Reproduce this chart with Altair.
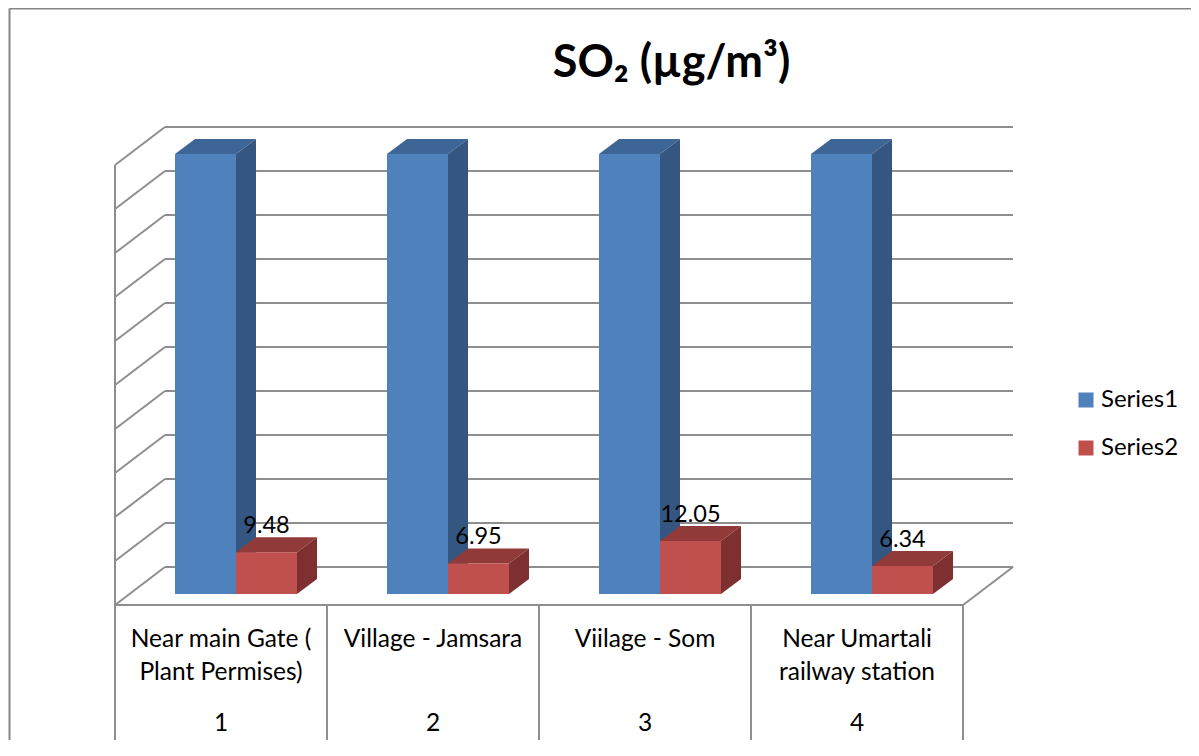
import altair as alt
import pandas as pd

categories = ["Near main Gate (", "Village - Jamsara", "Viilage - Som", "Near Umartali"]
categories_line2 = ["Plant Permises)", "", "", "railway station"]
row_numbers = ["1", "2", "3", "4"]
series1 = [100, 100, 100, 100]
series2 = [9.48, 6.95, 12.05, 6.34]
series2_labels = ["9.48", "6.95", "12.05", "6.34"]
y_ticks = list(range(0, 101, 10))
series_names = ["Series1", "Series2"]

FONT = "Lato"
W, H = 1183, 732
PX_X = 212.0   # px per category
PX_Y = 4.4     # px per value unit
X0, Y0 = 115.0, 605.0  # page px of the front-left floor corner


def ux(px):
    return (px - X0) / PX_X


def uy(px):
    return (Y0 - px) / PX_Y


XDOM = [ux(8), ux(8 + W)]
YDOM = [uy(8 + H), uy(8)]
xs = alt.Scale(domain=XDOM, nice=False, zero=False)
ys = alt.Scale(domain=YDOM, nice=False, zero=False)

DX, DY = 50 / PX_X, 38 / PX_Y          # floor depth
BAR_X = 60 / PX_X                      # first bar's offset
BAR_W = 61 / PX_X
BAR_DX, BAR_DY = 20 / PX_X, 15 / PX_Y  # bar depth
BASE = 11 / PX_Y                       # bar base above front floor edge

GREY = "#8e8e8e"
rules = []
for t in y_ticks:
    rules.append(dict(x=0, y=t, x2=DX, y2=t + DY))
    rules.append(dict(x=DX, y=t + DY, x2=4 + DX, y2=t + DY))
rules.append(dict(x=0, y=0, x2=0, y2=100))
rules.append(dict(x=0, y=0, x2=4, y2=0))
rules.append(dict(x=4, y=0, x2=4 + DX, y2=DY))
for i in range(5):
    rules.append(dict(x=i, y=0, x2=i, y2=uy(740)))
rules = pd.DataFrame(rules)

frame = pd.DataFrame([
    dict(x=ux(9.5), y=uy(8.5), x2=ux(8 + W), y2=uy(8.5)),
    dict(x=ux(9.5), y=uy(8.5), x2=ux(9.5), y2=uy(740)),
])


def rule_layer(df, color, width):
    return alt.Chart(df).mark_rule(color=color, strokeWidth=width).encode(
        x=alt.X("x:Q", scale=xs, axis=None),
        y=alt.Y("y:Q", scale=ys, axis=None),
        x2="x2:Q",
        y2="y2:Q",
    )


grid = rule_layer(rules, GREY, 2)
border = rule_layer(frame, "#868686", 2)

COLORS = {"Series1": "#4f81bd", "Series2": "#c0504d"}
TOPS = {"Series1": "#3d6595", "Series2": "#903b39"}
SIDES = {"Series1": "#345681", "Series2": "#7d302f"}


def faces(name, values, slot):
    front, side, top = [], [], []
    for i, v in enumerate(values):
        left = i + BAR_X + slot * BAR_W
        right = left + BAR_W
        high = BASE + v
        front.append(dict(id=i, series=name, x=left, x2=right, y=BASE, y2=high))
        side.append(dict(id=i, x=right, y=BASE, y2=high))
        side.append(dict(id=i, x=right + BAR_DX, y=BASE + BAR_DY, y2=high + BAR_DY))
        top.append(dict(id=i, y=high, x=left, x2=right))
        top.append(dict(id=i, y=high + BAR_DY, x=left + BAR_DX, x2=right + BAR_DX))
    return pd.DataFrame(front), pd.DataFrame(side), pd.DataFrame(top)


def bar_layers(name, values, slot):
    f, s, t = faces(name, values, slot)
    top = alt.Chart(t).mark_area(orient="horizontal", color=TOPS[name]).encode(
        y=alt.Y("y:Q", scale=ys, axis=None),
        x=alt.X("x:Q", scale=xs, axis=None, stack=None),
        x2="x2:Q",
        detail="id:N",
    )
    side = alt.Chart(s).mark_area(orient="vertical", color=SIDES[name]).encode(
        x=alt.X("x:Q", scale=xs, axis=None),
        y=alt.Y("y:Q", scale=ys, axis=None, stack=None),
        y2="y2:Q",
        detail="id:N",
    )
    front = alt.Chart(f).mark_rect().encode(
        x=alt.X("x:Q", scale=xs, axis=None),
        x2="x2:Q",
        y=alt.Y("y:Q", scale=ys, axis=None),
        y2="y2:Q",
        color=alt.Color(
            "series:N",
            scale=alt.Scale(domain=series_names, range=[COLORS[n] for n in series_names]),
            legend=alt.Legend(
                title=None,
                orient="none",
                legendX=1066,
                legendY=380,
                symbolType="square",
                symbolSize=225,
                symbolStrokeWidth=0,
                labelFont=FONT,
                labelFontSize=24,
                labelColor="#000000",
                labelOffset=3,
                rowPadding=24,
            ),
        ),
    )
    return [top, side, front]


# y axis carried by an invisible layer so that the labels are real axis text
axis_layer = alt.Chart(pd.DataFrame({"y": y_ticks})).mark_point(opacity=0).encode(
    x=alt.X("x:Q", scale=xs, axis=None, impute=None) if False else alt.value(0),
    y=alt.Y(
        "y:Q",
        scale=ys,
        axis=alt.Axis(
            values=y_ticks,
            title=None,
            orient="left",
            offset=-107,
            domain=False,
            ticks=False,
            grid=False,
            labelFont=FONT,
            labelFontSize=23,
            labelColor="#000000",
            labelPadding=25,
            labelOffset=1,
        ),
    ),
)

cat_rows = []
for i in range(4):
    cat_rows.append(dict(x=i + 0.5, y=uy(640), t=categories[i]))
    cat_rows.append(dict(x=i + 0.5, y=uy(673), t=categories_line2[i]))
    cat_rows.append(dict(x=i + 0.5, y=uy(724), t=row_numbers[i]))
cat_text = alt.Chart(pd.DataFrame(cat_rows)).mark_text(
    font=FONT, fontSize=24.5, color="#000000", baseline="middle", align="center"
).encode(
    x=alt.X("x:Q", scale=xs, axis=None),
    y=alt.Y("y:Q", scale=ys, axis=None),
    text="t:N",
)

label_rows = [
    dict(x=i + BAR_X + 1.5 * BAR_W, y=BASE + v + 26 / PX_Y, t=series2_labels[i])
    for i, v in enumerate(series2)
]
data_labels = alt.Chart(pd.DataFrame(label_rows)).mark_text(
    font=FONT, fontSize=23.5, color="#000000", baseline="middle", align="center"
).encode(
    x=alt.X("x:Q", scale=xs, axis=None),
    y=alt.Y("y:Q", scale=ys, axis=None),
    text="t:N",
)

layers = [axis_layer, border, grid]
layers += bar_layers("Series1", series1, 0)
layers += bar_layers("Series2", series2, 1)
layers += [cat_text, data_labels]

chart = alt.layer(*layers).properties(
    width=W,
    height=H,
    padding=0,
    autosize=alt.AutoSizeParams(type="none"),
    title=alt.TitleParams(
        text="SO₂ (µg/m³)",
        font=FONT,
        fontSize=45,
        fontWeight="bold",
        color="#000000",
        anchor="middle",
        dx=72,
        dy=82,
    ),
).configure_view(stroke=None).resolve_scale(x="shared", y="shared")

chart.save("out.html", embed_options={"renderer": "svg", "actions": False})
